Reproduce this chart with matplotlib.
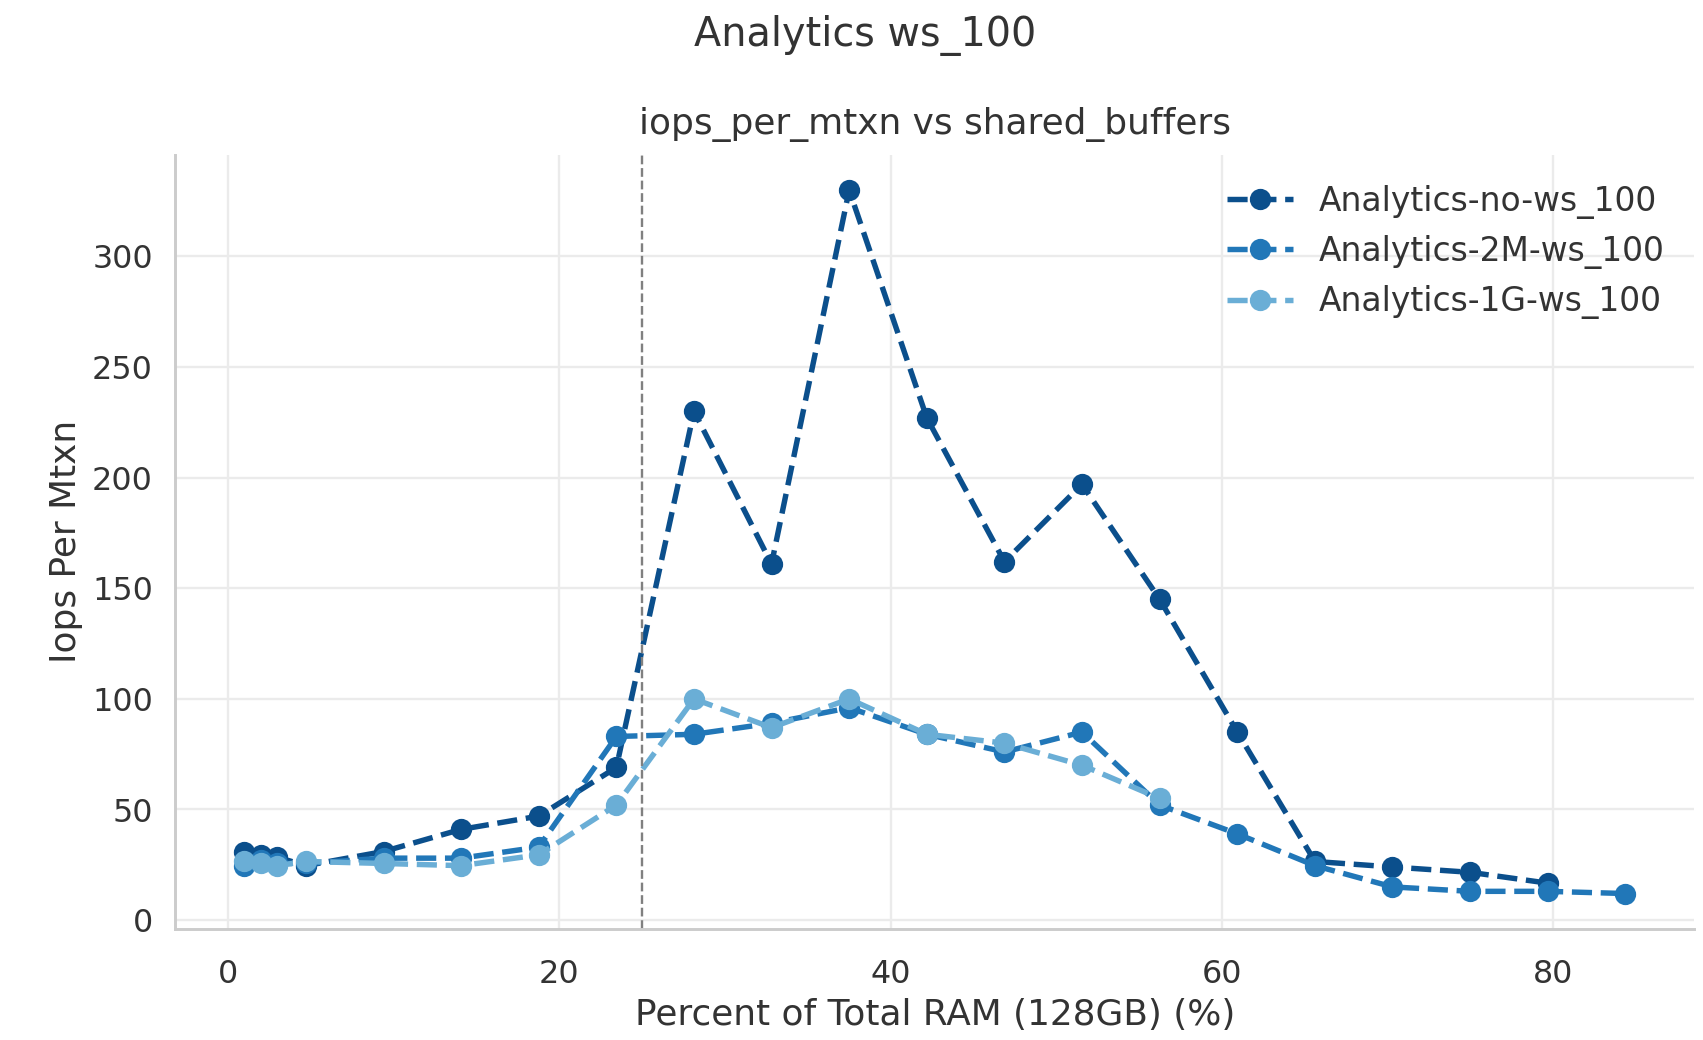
import matplotlib
matplotlib.use("Agg")
import matplotlib.pyplot as plt
import seaborn as sns

# shared_buffers as percent of 128GB RAM
pct_ram = [0.98, 1.95, 2.93, 4.69, 9.38, 14.06, 18.75, 23.44, 28.13, 32.81,
           37.5, 42.19, 46.88, 51.56, 56.25, 60.94, 65.63, 70.31, 75.0, 79.69, 84.38]

no_ws = [31, 29.5, 28.5, 24.6, 31, 41, 47, 69, 230, 161,
         330, 227, 162, 197, 145, 85, 26.5, 24, 21.6, 16.7]
ws_2m = [24.6, 27, 25.6, 25.6, 28, 28, 33, 83, 84, 89,
         96, 84, 76, 85, 52, 39, 24.6, 15, 13, 13, 12]
ws_1g = [26.5, 26, 24.6, 26.5, 25.6, 24.6, 29.5, 52, 100, 87,
         100, 84, 80, 70, 55]

labels = ["Analytics-no-ws_100", "Analytics-2M-ws_100", "Analytics-1G-ws_100"]
colors = ["#0b4f8c", "#2177b8", "#6aaed6"]

sns.set_theme(style="whitegrid")
plt.rcParams['font.family'] = ['DejaVu Sans']
plt.rcParams['text.color'] = '#333333'
plt.rcParams['axes.labelcolor'] = '#333333'
plt.rcParams['xtick.color'] = '#333333'
plt.rcParams['ytick.color'] = '#333333'

fig, ax = plt.subplots(figsize=(10, 6.107), dpi=170.3)
fig.subplots_adjust(left=0.103, right=0.995, bottom=0.107, top=0.851)

series = [no_ws, ws_2m, ws_1g]
for vals, lab, col in zip(series, labels, colors):
    ax.plot(pct_ram[:len(vals)], vals, linestyle="--", marker="o",
            color=col, label=lab, linewidth=2.3, markersize=8)

# 25% of RAM marker
ax.axvline(25, color="gray", linestyle="--", linewidth=1)

ax.grid(color="#ebebeb")
sns.despine(ax=ax)
ax.set_title("iops_per_mtxn vs shared_buffers", fontsize=15.2, pad=9)
fig.suptitle("Analytics ws_100", fontsize=16.8, x=0.508, y=0.986)
ax.set_xlabel("Percent of Total RAM (128GB) (%)", fontsize=15.2, labelpad=3)
ax.set_ylabel("Iops Per Mtxn", fontsize=15.2)
ax.tick_params(axis='both', labelsize=13.5)
ax.tick_params(axis='x', pad=7)
ax.legend(loc="upper right", frameon=False, fontsize=13.9)

plt.savefig("out.png")
